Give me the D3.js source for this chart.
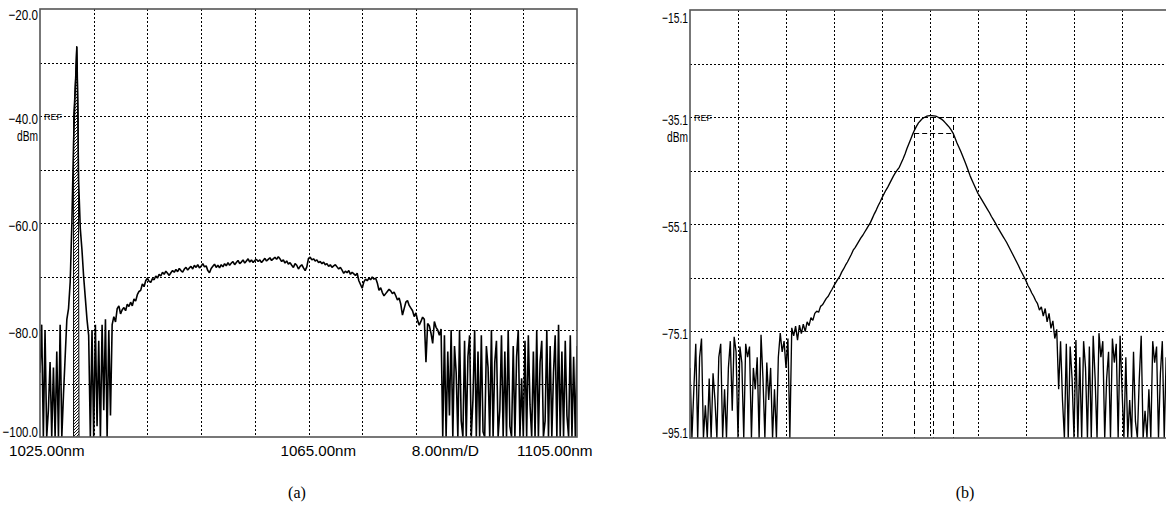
<!DOCTYPE html>
<html>
<head>
<meta charset="utf-8">
<script src="https://cdn.jsdelivr.net/npm/d3@7"></script>
<style>
  html, body { margin: 0; padding: 0; background: #fff; }
  svg { display: block; }
  .lbl { font-family: "Liberation Sans Narrow", "Liberation Sans", Arial, sans-serif; font-size: 15px; fill: #000; }
  .ref { font-family: "Liberation Sans", Arial, sans-serif; font-size: 9px; fill: #000; }
  .cap { font-family: "Liberation Serif", "Times New Roman", serif; font-size: 16px; fill: #000; }
</style>
</head>
<body>
<svg id="chart" width="1166" height="527"></svg>
<script>
// ---- panel (a): broadband spectrum, 1025..1105 nm, 0.25 nm per sample
const aStartNm = 1025
const aStepNm = 0.25
const aTrace = [
  -88, -79, -100, -80, -100, -95, -86, -100, -87, -100,
  -84, -100, -79, -100, -92, -85, -78, -76, -71, -60,
  -45, -35, -27, -52, -61, -65, -70, -74, -78, -81,
  -100, -80, -100, -79, -98, -82, -100, -79, -95, -78,
  -100, -80, -96, -79, -77.5, -78.5, -76, -75.5, -77, -76.2,
  -75.8, -76.4, -75.2, -75.6, -74.8, -75.5, -74.2, -74.6, -73.4, -72.8,
  -72.6, -71.4, -71.9, -70.8, -70.3, -70.9, -71.1, -70.4, -70.6, -69.9,
  -70.3, -69.6, -69.9, -69.2, -69.6, -69.0, -69.4, -69.8, -69.3, -68.9,
  -69.2, -68.7, -69.1, -68.5, -68.9, -69.2, -68.6, -68.3, -68.8, -68.4,
  -68.1, -68.6, -67.9, -68.3, -67.8, -68.4, -68.1, -67.6, -68.2, -68.0,
  -68.9, -69.3, -68.5, -68.1, -67.7, -68.3, -67.9, -68.4, -67.8, -68.2,
  -67.6, -68.0, -67.4, -67.9, -67.5, -67.2, -67.8, -67.4, -67.0, -67.6,
  -67.3, -66.9, -67.5, -67.1, -66.7, -67.3, -66.9, -67.4, -67.0, -66.8,
  -67.2, -66.9, -67.4, -67.0, -66.6, -67.1, -66.8, -66.5, -67.0, -66.7,
  -66.4, -66.8, -66.3, -66.7, -67.2, -66.9, -67.5, -67.1, -67.7, -67.4,
  -67.9, -68.3, -67.6, -67.9, -68.6, -68.1, -67.8, -68.4, -68.9, -68.2,
  -66.6, -66.4, -66.9, -66.7, -67.1, -66.9, -67.4, -67.2, -67.6, -67.3,
  -67.8, -67.6, -68.1, -67.8, -68.3, -68.0, -67.8, -68.2, -68.6, -68.3,
  -68.8, -69.4, -69.0, -69.3, -68.9, -69.6, -69.2, -69.5, -69.8, -69.4,
  -70.8, -71.5, -72.2, -71.0, -70.5, -70.8, -70.3, -70.6, -70.1, -70.5,
  -70.3, -71.2, -72.6, -72.1, -73.0, -73.6, -73.2, -72.8, -72.4, -72.7,
  -73.2, -72.9, -73.6, -74.4, -74.0, -75.2, -77.2, -76.0, -74.8, -74.5,
  -75.4, -75.9, -76.4, -77.5, -76.8, -78.2, -79.1, -78.4, -77.6, -78.0,
  -86.0, -78.8, -79.2, -80.6, -82.5, -78.4, -79.5, -80.0, -81.0, -79.8,
  -100, -81, -100, -84, -96, -80, -100, -83, -88, -100,
  -80, -97, -100, -82, -100, -85, -81, -100, -93, -80,
  -100, -84, -100, -81, -99, -100, -83, -87, -100, -80,
  -100, -86, -82, -100, -95, -81, -100, -84, -100, -80,
  -98, -100, -83, -100, -85, -80, -100, -89, -100, -82,
  -100, -81, -94, -100, -84, -100, -80, -100, -86, -82,
  -100, -97, -80, -100, -83, -100, -88, -81, -100, -79,
  -100, -84, -100, -82, -96, -100, -81, -100, -85, -100,
  -83
]
// outline of the narrow laser line (drawn hatched)
const aPeakNm = [1030.00, 1030.00, 1030.29, 1030.44, 1030.59, 1030.71, 1030.81]
const aPeakDbm = [-100, -40, -33, -27, -33, -40, -100]
const aYLabels = [-20, -40, -60, -80, -100]
const aXLabels = ['1025.00nm', '1065.00nm', '8.00nm/D', '1105.00nm']
const aXLabelNm = [1025, 1065, 1085, 1105]

// ---- panel (b): filter response, 10 divisions, 0.04 div per sample
const bStartDiv = 0
const bStepDiv = 0.04
const bTrace = [
  -82, -95.1, -86, -77.5, -95.1, -80, -76.5, -95.1, -89, -95.1,
  -84, -95.1, -83, -88, -95.1, -80, -77.5, -95.1, -86, -95.1,
  -82, -77, -90, -76.2, -79, -95.1, -78, -81, -95.1, -77.5,
  -80, -78, -95.1, -82, -86, -80, -95.1, -75.8, -84, -95.1,
  -81, -88, -82, -95.1, -86, -95.1, -80, -75.5, -79, -77,
  -82, -76.5, -95.1, -74.5, -76.0, -74.2, -76.8, -74.0, -75.6, -73.8,
  -75.2, -73.4, -74.1, -72.6, -73.1, -71.8, -71.4, -71.6, -70.5, -70.2,
  -69.6, -69.0, -68.6, -67.9, -67.3, -66.6, -66.0, -65.4, -64.9, -64.1,
  -63.5, -62.8, -62.2, -61.5, -60.8, -60.0, -59.5, -58.9, -58.3, -57.7,
  -57.2, -56.6, -56.0, -55.4, -54.8, -54.0, -53.2, -52.5, -51.7, -51.0,
  -50.2, -49.5, -48.8, -48.2, -47.5, -46.8, -46.1, -45.5, -45.0, -44.5,
  -43.7, -42.9, -42.0, -41.0, -40.1, -39.2, -38.3, -37.5, -36.8, -36.2,
  -35.8, -35.4, -35.2, -35.0, -34.9, -34.85, -34.85, -34.9, -34.95, -35.1,
  -35.3, -35.5, -35.8, -36.2, -36.6, -37.0, -37.5, -38.1, -39.0, -39.9,
  -40.7, -41.5, -42.4, -43.3, -44.2, -45.2, -46.2, -47.0, -47.8, -48.6,
  -49.4, -50.0, -50.6, -51.2, -51.8, -52.4, -53.0, -53.7, -54.3, -54.9,
  -55.6, -56.2, -56.8, -57.4, -58.0, -58.6, -59.3, -60.0, -60.7, -61.4,
  -62.1, -62.8, -63.6, -64.3, -65.0, -65.7, -66.6, -67.2, -68.0, -68.6,
  -69.4, -70.0, -71.2, -70.6, -72.3, -70.9, -73.4, -71.8, -74.6, -73.2,
  -76.5, -74.8, -86, -77, -88, -95.1, -77.5, -95.1, -78, -84,
  -95.1, -76.8, -95.1, -80, -95.1, -77, -82, -95.1, -78, -95.1,
  -76, -84, -95.1, -75.5, -80, -77, -95.1, -84, -79, -95.1,
  -76.5, -81, -77.5, -95.1, -76, -86, -95.1, -80, -95.1, -88,
  -95.1, -79, -92, -95.1, -84, -76, -95.1, -90, -95.1, -86,
  -95.1, -77, -81, -78, -95.1, -83, -77, -95.1, -80, -95.1,
  -84
]
// bandwidth markers
const bMarkerDiv = [4.67, 5.06, 5.48]
const bMarkerDbm = [-35.1, -38.1]
const bYLabels = [-15.1, -35.1, -55.1, -75.1, -95.1]

const svg = d3.select('#chart')
svg.append('rect').attr('width', 1166).attr('height', 527).attr('fill', '#fff')

const defs = svg.append('defs')
defs.append('pattern')
  .attr('id', 'hatch')
  .attr('patternUnits', 'userSpaceOnUse')
  .attr('width', 3).attr('height', 3)
  .append('path')
  .attr('d', 'M-1,1 L1,-1 M0,3 L3,0 M2,4 L4,2')
  .attr('stroke', '#000').attr('stroke-width', 0.9)

const snap = v => Math.round(v) + 0.5
const fmt = d3.format('.1f')

// the instrument font is narrow, so squeeze every label to its measured width
function squeeze (sel, w) {
  sel.attr('textLength', w).attr('lengthAdjust', 'spacingAndGlyphs')
}

function panel (cfg) {
  const g = svg.append('g')
  const x = d3.scaleLinear().domain(cfg.xDomain).range([cfg.left, cfg.left + cfg.width])
  const y = d3.scaleLinear().domain(cfg.yDomain).range([cfg.top + cfg.height, cfg.top])

  defs.append('clipPath').attr('id', cfg.id + '-clip')
    .append('rect')
    .attr('x', cfg.left).attr('y', cfg.top)
    .attr('width', cfg.width).attr('height', cfg.height + 0.5)

  // dotted grid
  g.selectAll('line.vg').data(cfg.xGrid.slice(1, -1)).join('line')
    .attr('class', 'vg')
    .attr('x1', d => snap(x(d))).attr('x2', d => snap(x(d)))
    .attr('y1', cfg.top).attr('y2', cfg.top + cfg.height)
    .attr('stroke', '#000').attr('stroke-dasharray', '2,2')
  g.selectAll('line.hg').data(cfg.yGrid.slice(1, -1)).join('line')
    .attr('class', 'hg')
    .attr('y1', d => snap(y(d))).attr('y2', d => snap(y(d)))
    .attr('x1', cfg.left).attr('x2', cfg.left + cfg.width)
    .attr('stroke', '#000').attr('stroke-dasharray', '2,2')

  const plot = g.append('g').attr('clip-path', `url(#${cfg.id}-clip)`)

  const line = d3.line()
    .x((d, i) => x(cfg.start + i * cfg.step))
    .y(d => y(Math.max(d, cfg.yDomain[0])))
  plot.append('path')
    .datum(cfg.trace)
    .attr('d', line)
    .attr('fill', 'none')
    .attr('stroke', '#000')
    .attr('stroke-width', cfg.traceWidth)
    .attr('stroke-linejoin', 'bevel')

  // frame
  g.append('rect')
    .attr('x', cfg.left).attr('y', cfg.top)
    .attr('width', cfg.width).attr('height', cfg.height)
    .attr('fill', 'none').attr('stroke', '#555').attr('stroke-width', 1.6)

  // y labels, REF and unit
  const top = cfg.yDomain[1]
  const bottom = cfg.yDomain[0]
  g.selectAll('text.yl').data(cfg.yLabels).join('text')
    .attr('class', 'lbl yl')
    .attr('x', cfg.left - 2)
    .attr('y', d => y(d) + (d === top ? cfg.topDy : d === bottom ? 0 : 8))
    .attr('text-anchor', 'end')
    .text(d => fmt(d))
    .each(function () {
      const n = this.textContent.length
      squeeze(d3.select(this), n * cfg.yCharW)
    })
  g.append('text').attr('class', 'ref')
    .attr('x', cfg.left + 4).attr('y', y(cfg.refLevel) + 3.5)
    .text('REF')
    .call(squeeze, 18)
  g.append('text').attr('class', 'lbl')
    .attr('x', cfg.left - 2).attr('y', y(cfg.refLevel) + 25)
    .attr('text-anchor', 'end')
    .text('dBm')
    .call(squeeze, 21)

  return { g, plot, x, y }
}

// ---- (a)
const pa = panel({
  id: 'a',
  left: 40, top: 9, width: 537, height: 428,
  xDomain: [1025, 1105], yDomain: [-100, -20],
  xGrid: d3.range(1025, 1105.1, 8), yGrid: d3.range(-100, -19.9, 10),
  yLabels: aYLabels, refLevel: -40, topDy: 11, yCharW: 5.9,
  start: aStartNm, step: aStepNm, trace: aTrace, traceWidth: 1.6
})

pa.plot.append('path')
  .datum(d3.zip(aPeakNm, aPeakDbm))
  .attr('d', d3.line().x(d => pa.x(d[0])).y(d => pa.y(d[1])))
  .attr('fill', 'url(#hatch)')
  .attr('stroke', '#000').attr('stroke-width', 1)

const aLabelShift = [-31, -28, -31, -60]
pa.g.selectAll('text.xl').data(aXLabels).join('text')
  .attr('class', 'lbl xl')
  .attr('x', (d, i) => pa.x(aXLabelNm[i]) + aLabelShift[i])
  .attr('y', 456)
  .text(d => d)
  .each(function (d) { squeeze(d3.select(this), d.length * 8.4) })

// ---- (b)
const pb = panel({
  id: 'b',
  left: 690, top: 10, width: 480, height: 428,
  xDomain: [0, 10], yDomain: [-95.1, -15.1],
  xGrid: d3.range(0, 10.01, 1), yGrid: d3.range(-95.1, -15.0, 10),
  yLabels: bYLabels, refLevel: -35.1, topDy: 13, yCharW: 5.2,
  start: bStartDiv, step: bStepDiv, trace: bTrace, traceWidth: 1.35
})

pb.plot.selectAll('line.mv').data(bMarkerDiv).join('line')
  .attr('class', 'mv')
  .attr('x1', d => snap(pb.x(d))).attr('x2', d => snap(pb.x(d)))
  .attr('y1', pb.y(bMarkerDbm[0])).attr('y2', pb.y(-95.1))
  .attr('stroke', '#000').attr('stroke-dasharray', '5,3')
pb.plot.selectAll('line.mh').data(bMarkerDbm).join('line')
  .attr('class', 'mh')
  .attr('y1', d => snap(pb.y(d))).attr('y2', d => snap(pb.y(d)))
  .attr('x1', pb.x(bMarkerDiv[0])).attr('x2', pb.x(bMarkerDiv[2]))
  .attr('stroke', '#000').attr('stroke-dasharray', '5,3')

// captions
svg.append('text').attr('class', 'cap').attr('x', 297).attr('y', 498).attr('text-anchor', 'middle').text('(a)')
svg.append('text').attr('class', 'cap').attr('x', 965).attr('y', 498).attr('text-anchor', 'middle').text('(b)')
</script>
</body>
</html>
